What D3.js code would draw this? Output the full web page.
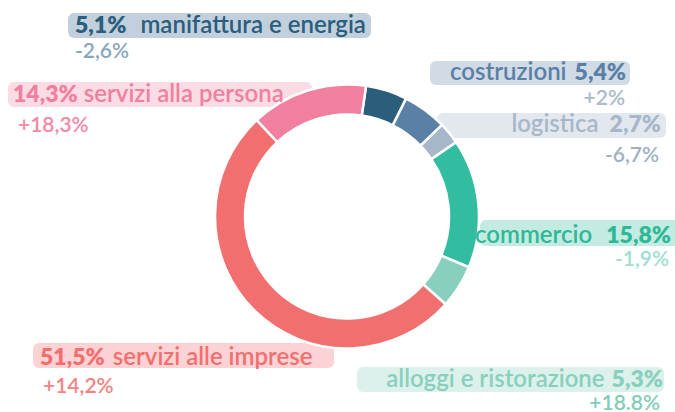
<!DOCTYPE html>
<html>
<head>
<meta charset="utf-8">
<script src="https://cdn.jsdelivr.net/npm/d3@7"></script>
<style>
  html, body { margin: 0; padding: 0; background: #ffffff; }
  svg { display: block; font-family: Lato, "Noto Sans", sans-serif; }
</style>
</head>
<body>
<svg id="chart" width="675" height="412"></svg>
<script>
// ---- data ----
const categories = ["manifattura e energia", "costruzioni", "logistica", "commercio",
                    "alloggi e ristorazione", "servizi alle imprese", "servizi alla persona"];
const shares = [5.1, 5.4, 2.7, 15.8, 5.3, 51.5, 14.3];
const changeLabels = ["-2,6%", "+2%", "-6,7%", "-1,9%", "+18.8%", "+14,2%", "+18,3%"];

// ---- styles ----
const sliceColors = ["#2b5d7d", "#5a80a5", "#a7b7c9", "#33bda0", "#88d0bd", "#f26f6f", "#f07fa0"];
const boxColors   = ["#c1d0dc", "#d0dbe6", "#e3e8ef", "#c3ebe1", "#dcf1eb", "#fcd3d5", "#fcdce4"];
const textColors  = ["#2b5d7d", "#5a80a5", "#a7b7c9", "#2fb897", "#88d0bd", "#f26f6f", "#f07fa0"];
const subColors   = ["#8aa6bc", "#a9bacb", "#9eb0c4", "#9ee0cf", "#82cdb8", "#f48383", "#f488a6"];

// label layout: box [x0,x1,y0,y1], text anchor x, baseline, sub x, sub baseline, align, gap
const layout = [
  {box:[68,371,13,38],  tx:75,  ty:33,  sx:75,  sy:58,  align:"left",  gap:14},
  {box:[430,630,61,85], tx:626, ty:80,  sx:625, sy:105, align:"right", gap:8},
  {box:[437,666,113,138], tx:661, ty:132, sx:659, sy:162, align:"right", gap:11},
  {box:[480,680,220,246], tx:671, ty:243, sx:669, sy:266, align:"right", gap:14},
  {box:[357,664,367,392], tx:663, ty:387, sx:660, sy:410, align:"right", gap:7},
  {box:[33,334,343,368], tx:40,  ty:365, sx:43,  sy:393, align:"left",  gap:8},
  {box:[8,312,82,107],  tx:13,  ty:102, sx:18,  sy:132, align:"left",  gap:6}
];

const svg = d3.select("#chart");
const cx = 347, cy = 216.5, rOuter = 132, rInner = 102;
const start = 0.145;

const pie = d3.pie().sort(null).value(d => d).startAngle(start).endAngle(start + 2 * Math.PI);
const arc = d3.arc().innerRadius(rInner).outerRadius(rOuter);
const arcs = pie(shares);

const fmt = v => String(v).replace(".", ",") + "%";

// label boxes (drawn first so the donut overlaps them)
const labels = svg.append("g");
categories.forEach((c, i) => {
  const L = layout[i];
  labels.append("rect")
    .attr("x", L.box[0]).attr("y", L.box[2])
    .attr("width", L.box[1] - L.box[0]).attr("height", L.box[3] - L.box[2])
    .attr("rx", 6).attr("fill", boxColors[i]);
});

svg.append("g").attr("transform", `translate(${cx},${cy})`)
  .selectAll("path").data(arcs).join("path")
  .attr("d", arc)
  .attr("fill", (d, i) => sliceColors[i])
  .attr("stroke", "#ffffff").attr("stroke-width", 2.5);

const texts = svg.append("g");
categories.forEach((c, i) => {
  const L = layout[i];
  const t = texts.append("text")
    .attr("x", L.tx).attr("y", L.ty)
    .attr("text-anchor", L.align === "left" ? "start" : "end")
    .attr("fill", textColors[i]);
  const pct = s => s.attr("font-weight", 800).attr("font-size", 23).text(fmt(shares[i]));
  const name = s => s.attr("font-weight", 600).attr("font-size", 24).text(c);
  if (L.align === "left") {
    pct(t.append("tspan"));
    name(t.append("tspan").attr("dx", L.gap));
  } else {
    name(t.append("tspan"));
    pct(t.append("tspan").attr("dx", L.gap));
  }
  texts.append("text")
    .attr("x", L.sx).attr("y", L.sy)
    .attr("text-anchor", L.align === "left" ? "start" : "end")
    .attr("font-size", 21).attr("font-weight", 600)
    .attr("fill", subColors[i])
    .text(changeLabels[i]);
});
</script>
</body>
</html>
